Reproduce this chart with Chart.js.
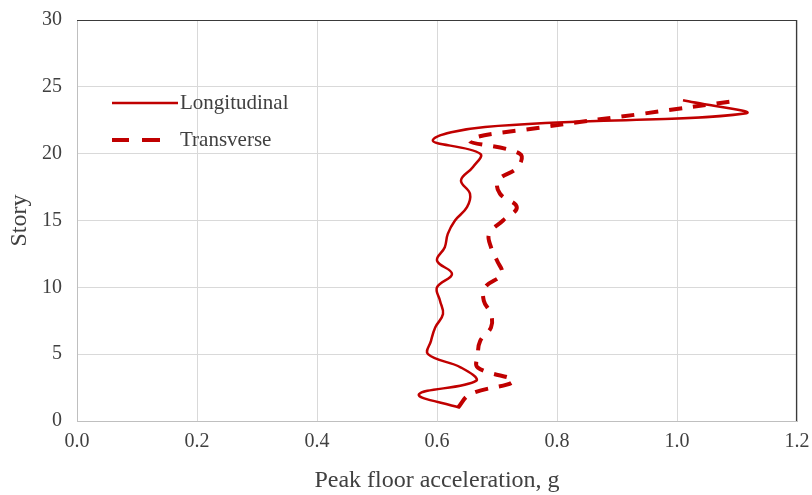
<!DOCTYPE html>
<html><head><meta charset="utf-8">
<script src="https://cdn.jsdelivr.net/npm/chart.js@4/dist/chart.umd.min.js"></script>
<style>html,body{margin:0;padding:0;background:#fff}#wrap{width:812px;height:495px}</style>
</head><body><div id="wrap"><canvas id="c" width="812" height="495"></canvas></div>
<script>
const stories = [1,2,3,4,5,6,7,8,9,10,11,12,13,14,15,16,17,18,19,20,21,22,23,24];
const longitudinal = [0.637,0.57,0.665,0.64,0.585,0.59,0.597,0.61,0.605,0.60,0.625,0.60,0.613,0.618,0.63,0.65,0.655,0.64,0.66,0.672,0.593,0.68,1.113,1.01];
const transverse = [0.635,0.655,0.727,0.668,0.668,0.672,0.69,0.69,0.678,0.68,0.708,0.70,0.69,0.687,0.71,0.733,0.705,0.702,0.735,0.738,0.655,0.78,0.945,1.105];
const xTickValues = [0,0.2,0.4,0.6,0.8,1.0,1.2];
const yTickValues = [0,5,10,15,20,25,30];
const seriesNames = ['Longitudinal','Transverse'];
const xTitle = 'Peak floor acceleration, g';
const yTitle = 'Story';

const RED = '#C00000';
const FONT = "'Liberation Serif', 'Times New Roman', serif";
const TXT = '#404040';

const extras = {
  id: 'extras',
  afterDraw(chart) {
    const ctx = chart.ctx, a = chart.chartArea;
    ctx.save();
    ctx.strokeStyle = '#3a3a3a';
    ctx.lineWidth = 1.2;
    ctx.beginPath();
    ctx.moveTo(a.left, a.top + 0.5);
    ctx.lineTo(a.right - 0.5, a.top + 0.5);
    ctx.lineTo(a.right - 0.5, a.bottom);
    ctx.stroke();
    // legend
    const rows = [{y: 103}, {y: 140}];
    chart.data.datasets.forEach((ds, i) => {
      const y = rows[i].y;
      ctx.strokeStyle = ds.borderColor;
      ctx.lineWidth = ds.borderWidth;
      ctx.beginPath();
      if (ds.borderDash && ds.borderDash.length) {
        ctx.moveTo(112, y); ctx.lineTo(129, y);
        ctx.moveTo(142, y); ctx.lineTo(160, y);
      } else {
        ctx.moveTo(112, y); ctx.lineTo(178, y);
      }
      ctx.stroke();
      ctx.fillStyle = TXT;
      ctx.font = "21px " + FONT;
      ctx.textBaseline = 'middle';
      ctx.textAlign = 'left';
      ctx.fillText(ds.label, 180, y);
    });
    ctx.restore();
  }
};

new Chart(document.getElementById('c'), {
  type: 'scatter',
  data: {
    datasets: [
      {
        label: seriesNames[0],
        data: stories.map((s, i) => ({x: longitudinal[i], y: s})),
        showLine: true, borderColor: RED, backgroundColor: RED,
        borderWidth: 2.5, pointRadius: 0, tension: 0.4
      },
      {
        label: seriesNames[1],
        data: stories.map((s, i) => ({x: transverse[i], y: s})),
        showLine: true, borderColor: RED, backgroundColor: RED,
        borderWidth: 4, borderDash: [13, 11], pointRadius: 0, tension: 0.4
      }
    ]
  },
  options: {
    responsive: false,
    animation: false,
    devicePixelRatio: 1,
    layout: {padding: {left: 0, right: 15, top: 20, bottom: 0}},
    plugins: {legend: {display: false}, tooltip: {enabled: false}},
    scales: {
      x: {
        type: 'linear', min: 0, max: 1.2,
        afterFit(s) { s.height = 74; s.paddingLeft = 0; s.paddingRight = 0; },
        afterBuildTicks(s) { s.ticks = xTickValues.map(v => ({value: v})); },
        grid: {color: '#d9d9d9', drawTicks: false, lineWidth: 1},
        border: {color: '#bfbfbf', width: 1},
        ticks: {color: TXT, font: {family: FONT, size: 20}, padding: 9, callback: v => Number(v).toFixed(1)},
        title: {display: true, text: xTitle, color: TXT, font: {family: FONT, size: 24}, padding: {top: 0, bottom: 0}}
      },
      y: {
        type: 'linear', min: 0, max: 30,
        afterFit(s) { s.width = 77; s.paddingTop = 0; s.paddingBottom = 0; },
        afterBuildTicks(s) { s.ticks = yTickValues.map(v => ({value: v})); },
        grid: {color: '#d9d9d9', drawTicks: false, lineWidth: 1},
        border: {color: '#bfbfbf', width: 1},
        ticks: {color: TXT, font: {family: FONT, size: 20}, padding: 15},
        title: {display: true, text: yTitle, color: TXT, font: {family: FONT, size: 24}, padding: {top: 5, bottom: 0}}
      }
    }
  },
  plugins: [extras]
});
</script>
</body></html>
